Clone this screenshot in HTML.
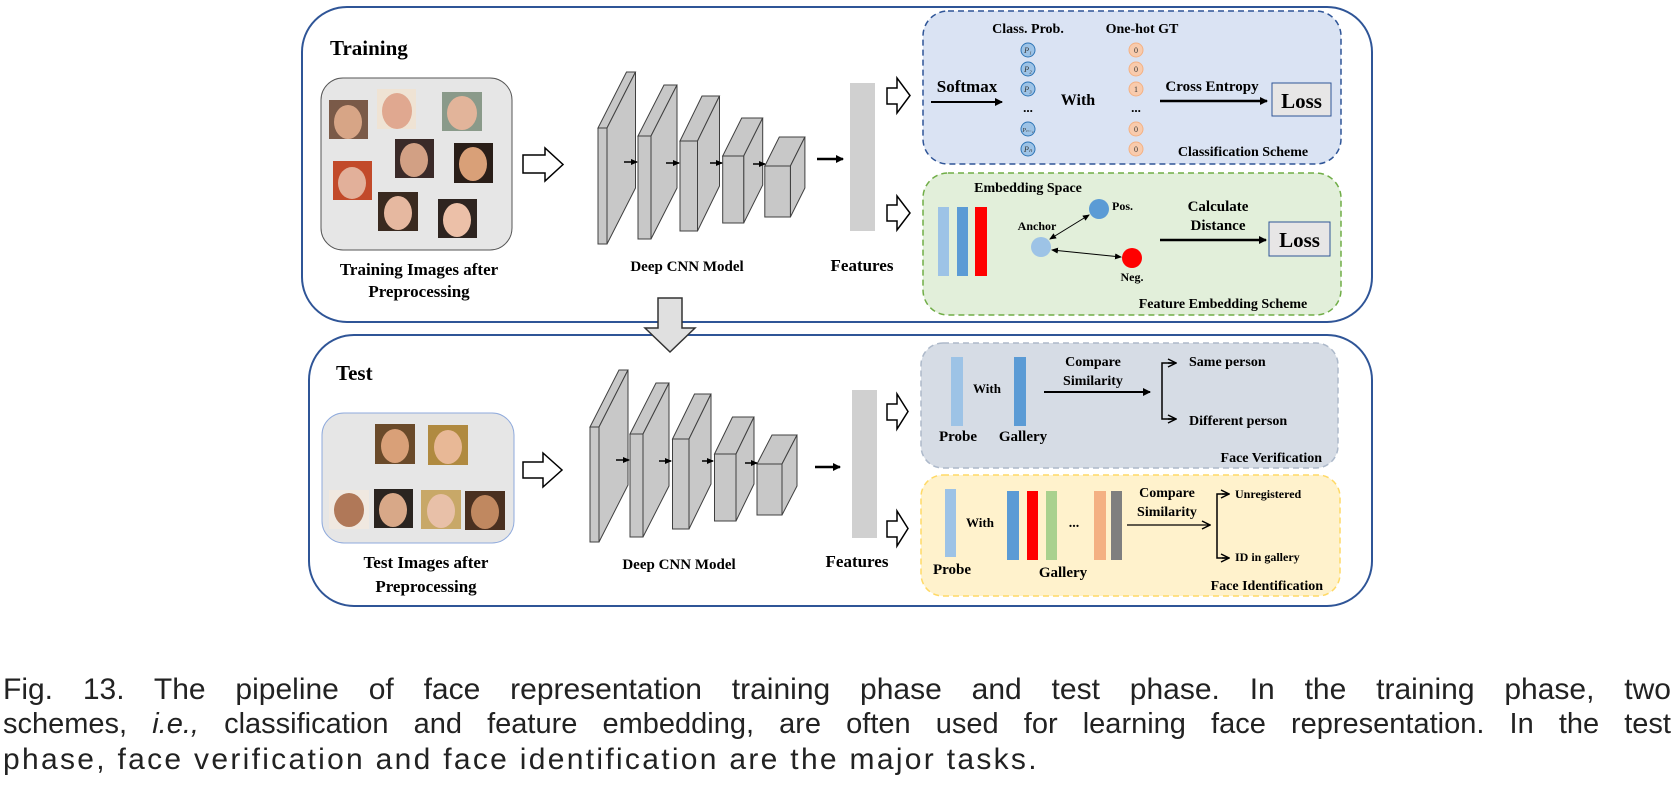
<!DOCTYPE html>
<html><head><meta charset="utf-8"><style>
html,body{margin:0;padding:0;background:#fff;width:1678px;height:799px;overflow:hidden;position:relative}
svg{position:absolute;left:0;top:0}
.cap{position:absolute;left:3px;width:1668px;font-family:"Liberation Sans",sans-serif;font-size:30px;line-height:35px;color:#222;white-space:nowrap}
.j{text-align:justify;text-align-last:justify;white-space:normal}
</style></head><body>
<svg width="1678" height="660" viewBox="0 0 1678 660" font-family="Liberation Serif, serif" font-weight="bold">
<defs>
<marker id="ah" markerWidth="8" markerHeight="8" refX="7" refY="4" orient="auto" markerUnits="userSpaceOnUse"><path d="M0,0 L8,4 L0,8 z" fill="#000"/></marker>
<marker id="ahs" markerWidth="7" markerHeight="6" refX="6" refY="3" orient="auto-start-reverse" markerUnits="userSpaceOnUse"><path d="M0,0 L7,3 L0,6 z" fill="#000"/></marker>
<marker id="ao" markerWidth="10" markerHeight="10" refX="9" refY="5" orient="auto" markerUnits="userSpaceOnUse"><path d="M1,1 L9,5 L1,9" fill="none" stroke="#000" stroke-width="1.5"/></marker>
</defs>
<rect x="302" y="7" width="1070" height="315" rx="45" fill="#fff" stroke="#2f5597" stroke-width="2"/>
<rect x="309" y="335" width="1063" height="271" rx="45" fill="#fff" stroke="#2f5597" stroke-width="2"/>
<path d="M658,298 L682,298 L682,328 L695,328 L670,352 L645,328 L658,328 Z" fill="#e0e0e0" stroke="#333" stroke-width="1.5"/>
<text x="330" y="55" font-size="21">Training</text>
<text x="336" y="380" font-size="21">Test</text>
<rect x="321" y="78" width="191" height="172" rx="22" fill="#e6e6e6" stroke="#555" stroke-width="1"/>
<g stroke="none">
<rect x="329" y="100" width="39" height="39" fill="#7a5a48"/><ellipse cx="348" cy="122" rx="14" ry="17" fill="#d7a586"/>
<rect x="377" y="89" width="39" height="40" fill="#efe3d4"/><ellipse cx="397" cy="111" rx="15" ry="18" fill="#e0a890"/>
<rect x="442" y="92" width="40" height="39" fill="#8a9a8a"/><ellipse cx="462" cy="113" rx="15" ry="17" fill="#e2b49a"/>
<rect x="395" y="139" width="39" height="39" fill="#3a2a28"/><ellipse cx="414" cy="160" rx="14" ry="17" fill="#d2a084"/>
<rect x="454" y="143" width="39" height="40" fill="#2a1e18"/><ellipse cx="473" cy="164" rx="14" ry="17" fill="#d9a078"/>
<rect x="333" y="161" width="39" height="39" fill="#c24a2a"/><ellipse cx="352" cy="183" rx="14" ry="16" fill="#e2b09a"/>
<rect x="378" y="192" width="40" height="39" fill="#3a2a20"/><ellipse cx="398" cy="213" rx="14" ry="17" fill="#e6b8a0"/>
<rect x="438" y="199" width="39" height="39" fill="#2e2420"/><ellipse cx="457" cy="220" rx="14" ry="17" fill="#ecc0a8"/>
</g>
<text x="419" y="275" font-size="17" text-anchor="middle">Training Images after</text>
<text x="419" y="297" font-size="17" text-anchor="middle">Preprocessing</text>
<path d="M523,155 L545,155 L545,148 L563,164.5 L545,181 L545,173 L523,173 Z" fill="#fff" stroke="#000" stroke-width="1.5"/>
<g fill="#c8c8c8" stroke="#404040" stroke-width="1">
<polygon points="598,128 626.5,72 635.5,72 607,128"/><polygon points="607,128 635.5,72 635.5,188 607,244"/><rect x="598" y="128" width="9" height="116"/>
<polygon points="638,136 664,85 677,85 651,136"/><polygon points="651,136 677,85 677,188 651,239"/><rect x="638" y="136" width="13" height="103"/>
<polygon points="680,141 702,96 719.5,96 697.5,141"/><polygon points="697.5,141 719.5,96 719.5,186 697.5,231"/><rect x="680" y="141" width="17.5" height="90"/>
<polygon points="722.7,156 741.7,118 762.7,118 743.7,156"/><polygon points="743.7,156 762.7,118 762.7,185 743.7,223"/><rect x="722.7" y="156" width="21" height="67"/>
<polygon points="764.8,166 779.3,137 804.9,137 790.4,166"/><polygon points="790.4,166 804.9,137 804.9,188 790.4,217"/><rect x="764.8" y="166" width="25.6" height="51"/>
</g>
<g stroke="#000" stroke-width="1.5" marker-end="url(#ahs)">
<line x1="624" y1="162" x2="637" y2="162"/><line x1="666" y1="163" x2="679" y2="163"/><line x1="710" y1="163" x2="722" y2="163"/><line x1="753" y1="164" x2="765" y2="164"/>
</g>
<line x1="817" y1="159" x2="843" y2="159" stroke="#000" stroke-width="2.5" marker-end="url(#ah)"/>
<rect x="850" y="83" width="25" height="148" fill="#d0d0d0"/>
<text x="687" y="271" font-size="15" text-anchor="middle">Deep CNN Model</text>
<text x="862" y="271" font-size="17" text-anchor="middle">Features</text>
<path d="M887,88 L897,88 L897,78 L910,95.5 L897,113 L897,104 L887,104 Z" fill="#fff" stroke="#000" stroke-width="1.5"/>
<path d="M887,205 L897,205 L897,196 L910,213 L897,230 L897,221 L887,221 Z" fill="#fff" stroke="#000" stroke-width="1.5"/>
<rect x="923" y="11" width="418" height="153" rx="25" fill="#dae3f3" stroke="#2f5597" stroke-width="1.5" stroke-dasharray="6,4"/>
<text x="1028" y="33" font-size="14" text-anchor="middle">Class. Prob.</text>
<text x="1142" y="33" font-size="14" text-anchor="middle">One-hot GT</text>
<g fill="#9dc3e6" stroke="#2e75b6" stroke-width="1">
<circle cx="1028" cy="50" r="7"/><circle cx="1028" cy="69" r="7"/><circle cx="1028" cy="89" r="7"/><circle cx="1028" cy="129" r="7"/><circle cx="1028" cy="149" r="7"/>
</g>
<g font-family="Liberation Serif, serif" font-style="italic" font-weight="normal" font-size="8" text-anchor="middle" fill="#333">
<text x="1028" y="53">P₁</text><text x="1028" y="72">P₂</text><text x="1028" y="92">P₃</text><text x="1028" y="132" font-size="6">Pₙ₋₁</text><text x="1028" y="152">Pₙ</text>
</g>
<text x="1028" y="112" font-size="13" text-anchor="middle">...</text>
<g fill="#f8cbad" stroke="#f4b183" stroke-width="1">
<circle cx="1136" cy="50" r="7"/><circle cx="1136" cy="69" r="7"/><circle cx="1136" cy="89" r="7"/><circle cx="1136" cy="129" r="7"/><circle cx="1136" cy="149" r="7"/>
</g>
<g font-weight="normal" font-size="8" text-anchor="middle" fill="#333">
<text x="1136" y="53">0</text><text x="1136" y="72">0</text><text x="1136" y="92">1</text><text x="1136" y="132">0</text><text x="1136" y="152">0</text>
</g>
<text x="1136" y="112" font-size="13" text-anchor="middle">...</text>
<text x="967" y="92" font-size="17" text-anchor="middle">Softmax</text>
<line x1="931" y1="102" x2="1002" y2="102" stroke="#000" stroke-width="2" marker-end="url(#ah)"/>
<text x="1078" y="105" font-size="16" text-anchor="middle">With</text>
<text x="1212" y="91" font-size="15" text-anchor="middle">Cross Entropy</text>
<line x1="1160" y1="101" x2="1267" y2="101" stroke="#000" stroke-width="2.5" marker-end="url(#ah)"/>
<rect x="1272" y="83" width="59" height="33" fill="#e7e6e6" stroke="#2f5597" stroke-width="1"/>
<text x="1301.5" y="108" font-size="21" text-anchor="middle">Loss</text>
<text x="1243" y="156" font-size="14" text-anchor="middle">Classification Scheme</text>
<rect x="923" y="173" width="418" height="142" rx="25" fill="#e2efda" stroke="#70ad47" stroke-width="1.5" stroke-dasharray="6,4"/>
<text x="1028" y="192" font-size="14" text-anchor="middle">Embedding Space</text>
<rect x="938" y="207" width="11" height="69" fill="#9dc3e6"/>
<rect x="957" y="207" width="11" height="69" fill="#5b9bd5"/>
<rect x="975" y="207" width="12" height="69" fill="#ff0000"/>
<circle cx="1041" cy="247" r="10" fill="#9dc3e6"/>
<circle cx="1099" cy="209" r="10" fill="#5b9bd5"/>
<circle cx="1132" cy="258" r="10" fill="#ff0000"/>
<text x="1037" y="230" font-size="12" text-anchor="middle">Anchor</text>
<text x="1112" y="210" font-size="12">Pos.</text>
<text x="1132" y="281" font-size="12" text-anchor="middle">Neg.</text>
<line x1="1050" y1="239" x2="1089" y2="215" stroke="#000" stroke-width="1" marker-start="url(#ahs)" marker-end="url(#ahs)"/>
<line x1="1052" y1="250" x2="1121" y2="257" stroke="#000" stroke-width="1" marker-start="url(#ahs)" marker-end="url(#ahs)"/>
<text x="1218" y="211" font-size="15" text-anchor="middle">Calculate</text>
<text x="1218" y="230" font-size="15" text-anchor="middle">Distance</text>
<line x1="1160" y1="240" x2="1266" y2="240" stroke="#000" stroke-width="2.5" marker-end="url(#ah)"/>
<rect x="1269" y="222" width="61" height="34" fill="#e7e6e6" stroke="#2f5597" stroke-width="1"/>
<text x="1299.5" y="247" font-size="21" text-anchor="middle">Loss</text>
<text x="1223" y="308" font-size="14" text-anchor="middle">Feature Embedding Scheme</text>
<rect x="322" y="413" width="192" height="130" rx="22" fill="#e6e6e6" stroke="#8faadc" stroke-width="1"/>
<g>
<rect x="375" y="424" width="40" height="40" fill="#6a4a2a"/><ellipse cx="395" cy="446" rx="14" ry="17" fill="#d9a078"/>
<rect x="428" y="425" width="40" height="40" fill="#b08a40"/><ellipse cx="448" cy="447" rx="14" ry="17" fill="#e8b896"/>
<rect x="329" y="490" width="40" height="39" fill="#f0e8e0"/><ellipse cx="349" cy="510" rx="15" ry="17" fill="#b07858"/>
<rect x="374" y="489" width="39" height="39" fill="#2a2420"/><ellipse cx="393" cy="510" rx="14" ry="17" fill="#d8a888"/>
<rect x="421" y="490" width="40" height="39" fill="#c8a868"/><ellipse cx="441" cy="511" rx="14" ry="17" fill="#e8c0a8"/>
<rect x="465" y="491" width="40" height="39" fill="#4a3020"/><ellipse cx="485" cy="512" rx="14" ry="17" fill="#c08860"/>
</g>
<text x="426" y="568" font-size="17" text-anchor="middle">Test Images after</text>
<text x="426" y="592" font-size="17" text-anchor="middle">Preprocessing</text>
<path d="M523,462 L543,462 L543,453 L562,470 L543,487 L543,478 L523,478 Z" fill="#fff" stroke="#000" stroke-width="1.5"/>
<g fill="#c8c8c8" stroke="#404040" stroke-width="1">
<polygon points="590,427 619,370 628,370 599,427"/><polygon points="599,427 628,370 628,485 599,542"/><rect x="590" y="427" width="9" height="115"/>
<polygon points="630,434 656,383 669,383 643,434"/><polygon points="643,434 669,383 669,486 643,537"/><rect x="630" y="434" width="13" height="103"/>
<polygon points="672.5,439 694.5,394 711,394 689,439"/><polygon points="689,439 711,394 711,484 689,529"/><rect x="672.5" y="439" width="16.5" height="90"/>
<polygon points="714.5,454 732.5,417 754,417 736,454"/><polygon points="736,454 754,417 754,484 736,521"/><rect x="714.5" y="454" width="21.5" height="67"/>
<polygon points="757,464 772,435 797,435 782,464"/><polygon points="782,464 797,435 797,486 782,515"/><rect x="757" y="464" width="25" height="51"/>
</g>
<g stroke="#000" stroke-width="1.5" marker-end="url(#ahs)">
<line x1="616" y1="460" x2="629" y2="460"/><line x1="659" y1="461" x2="671" y2="461"/><line x1="702" y1="461" x2="713" y2="461"/><line x1="745" y1="463" x2="757" y2="463"/>
</g>
<line x1="815" y1="467" x2="840" y2="467" stroke="#000" stroke-width="2.5" marker-end="url(#ah)"/>
<rect x="852" y="390" width="25" height="148" fill="#d0d0d0"/>
<text x="679" y="569" font-size="15" text-anchor="middle">Deep CNN Model</text>
<text x="857" y="567" font-size="17" text-anchor="middle">Features</text>
<path d="M887,404 L897,404 L897,394 L908,411.5 L897,429 L897,420 L887,420 Z" fill="#fff" stroke="#000" stroke-width="1.5"/>
<path d="M887,521 L897,521 L897,511 L908,528.5 L897,546 L897,537 L887,537 Z" fill="#fff" stroke="#000" stroke-width="1.5"/>
<rect x="921" y="343" width="417" height="125" rx="22" fill="#d6dce5" stroke="#adb9ca" stroke-width="1.5" stroke-dasharray="6,4"/>
<rect x="951" y="357" width="12" height="69" fill="#9dc3e6"/>
<rect x="1014" y="357" width="12" height="69" fill="#5b9bd5"/>
<text x="987" y="393" font-size="13" text-anchor="middle">With</text>
<text x="958" y="441" font-size="15" text-anchor="middle">Probe</text>
<text x="1023" y="441" font-size="15" text-anchor="middle">Gallery</text>
<text x="1093" y="366" font-size="14" text-anchor="middle">Compare</text>
<text x="1093" y="385" font-size="14" text-anchor="middle">Similarity</text>
<line x1="1044" y1="392" x2="1150" y2="392" stroke="#000" stroke-width="2" marker-end="url(#ah)"/>
<path d="M1175,363 L1162,363 L1162,419 L1175,419" fill="none" stroke="#000" stroke-width="1.5"/>
<line x1="1168" y1="363" x2="1176" y2="363" stroke="#000" stroke-width="1.5" marker-end="url(#ao)"/>
<line x1="1168" y1="419" x2="1176" y2="419" stroke="#000" stroke-width="1.5" marker-end="url(#ao)"/>
<text x="1189" y="366" font-size="14">Same person</text>
<text x="1189" y="425" font-size="14">Different person</text>
<text x="1322" y="462" font-size="14" text-anchor="end">Face Verification</text>
<rect x="921" y="475" width="419" height="121" rx="22" fill="#fff2cc" stroke="#ffd966" stroke-width="1.5" stroke-dasharray="6,4"/>
<rect x="945" y="489" width="11" height="68" fill="#9dc3e6"/>
<text x="980" y="527" font-size="13" text-anchor="middle">With</text>
<rect x="1007" y="491" width="12" height="69" fill="#5b9bd5"/>
<rect x="1027" y="491" width="11" height="69" fill="#ff0000"/>
<rect x="1046" y="491" width="11" height="69" fill="#a9d18e"/>
<text x="1074" y="527" font-size="14" text-anchor="middle">...</text>
<rect x="1094" y="491" width="12" height="69" fill="#f4b183"/>
<rect x="1111" y="491" width="11" height="69" fill="#7f7f7f"/>
<text x="952" y="574" font-size="15" text-anchor="middle">Probe</text>
<text x="1063" y="577" font-size="15" text-anchor="middle">Gallery</text>
<text x="1167" y="497" font-size="14" text-anchor="middle">Compare</text>
<text x="1167" y="516" font-size="14" text-anchor="middle">Similarity</text>
<line x1="1127" y1="525" x2="1210" y2="525" stroke="#000" stroke-width="1.2" marker-end="url(#ao)"/>
<path d="M1228,494 L1217,494 L1217,558 L1228,558" fill="none" stroke="#000" stroke-width="1.5"/>
<line x1="1222" y1="494" x2="1229" y2="494" stroke="#000" stroke-width="1.5" marker-end="url(#ao)"/>
<line x1="1222" y1="558" x2="1229" y2="558" stroke="#000" stroke-width="1.5" marker-end="url(#ao)"/>
<text x="1235" y="498" font-size="12">Unregistered</text>
<text x="1235" y="561" font-size="12">ID in gallery</text>
<text x="1323" y="590" font-size="14" text-anchor="end">Face Identification</text>
</svg>
<div class="cap j" style="top:672px">Fig. 13. The pipeline of face representation training phase and test phase. In the training phase, two</div>
<div class="cap j" style="top:707px;font-size:29px">schemes, <i>i.e.,</i> classification and feature embedding, are often used for learning face representation. In the test</div>
<div class="cap" style="top:742px;letter-spacing:2.3px">phase, face verification and face identification are the major tasks.</div>
</body></html>
